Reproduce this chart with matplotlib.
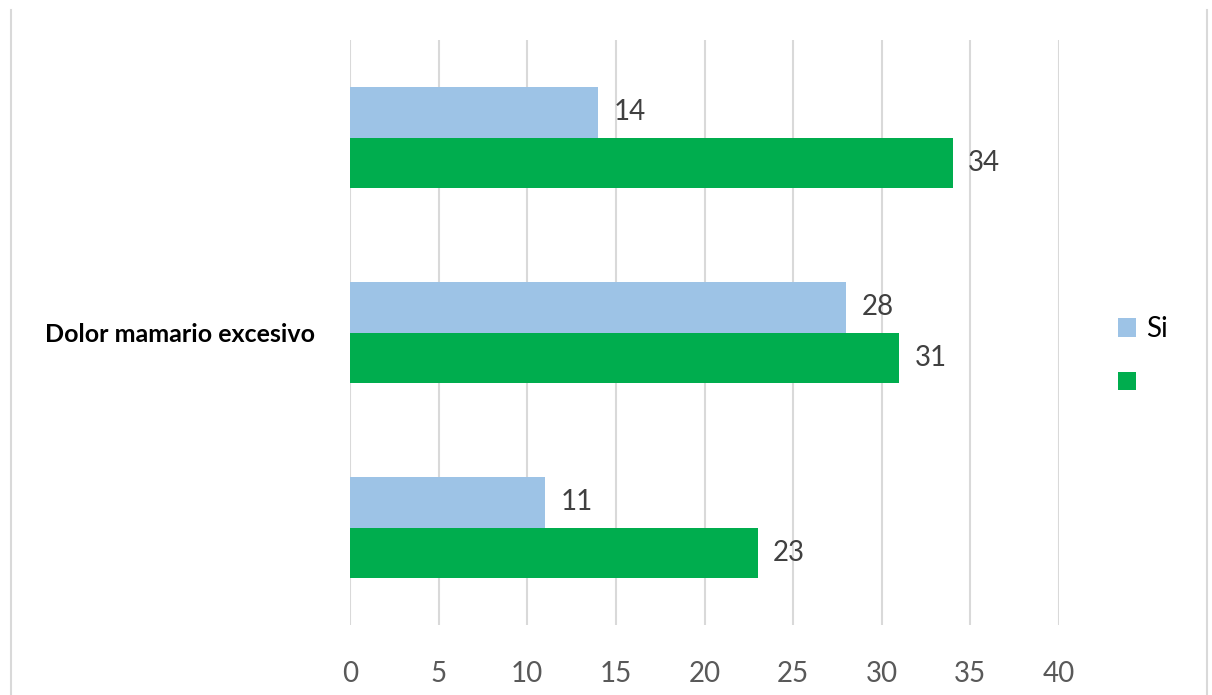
import matplotlib

matplotlib.use("Agg")
import matplotlib.pyplot as plt
from matplotlib.lines import Line2D

CATEGORIES = ["", "Dolor mamario excesivo", ""]
SI_VALUES = [14, 28, 11]
OTHER_VALUES = [34, 31, 23]
SERIES_LABELS = ["Si", " "]
XTICKS = [0, 5, 10, 15, 20, 25, 30, 35, 40]

BLUE = "#9dc3e6"
GREEN = "#00ad4e"
GRID = "#d9d9d9"

plt.rcParams["font.family"] = ["Lato", "DejaVu Sans"]


def main():
    fig = plt.figure(figsize=(12.12, 6.95), dpi=100)
    ax = fig.add_axes([350 / 1212, 1 - 625 / 695, (1059 - 350) / 1212, 585 / 695])

    pos = list(range(len(CATEGORIES)))
    h = 0.2615
    b1 = ax.barh([p - h / 2 for p in pos], SI_VALUES, height=h, color=BLUE,
                 label=SERIES_LABELS[0], zorder=2)
    b2 = ax.barh([p + h / 2 for p in pos], OTHER_VALUES, height=h, color=GREEN,
                 label=SERIES_LABELS[1], zorder=2)
    for bars in (b1, b2):
        for rect in bars:
            w = rect.get_width()
            ax.annotate(f"{w:g}", (w, rect.get_y() + rect.get_height() / 2),
                        xytext=(11, 0), textcoords="offset points",
                        ha="left", va="center", fontsize=20, color="#404040")

    ax.set_xlim(0, 40)
    ax.set_ylim(2.5, -0.5)
    ax.set_xticks(XTICKS)
    ax.set_yticks(pos)
    ax.set_yticklabels(CATEGORIES, fontsize=18, fontweight="bold", color="black")
    ax.tick_params(axis="x", length=0, pad=26, labelsize=20, labelcolor="#595959")
    ax.tick_params(axis="y", length=0, pad=25)
    ax.grid(axis="x", color=GRID, lw=1.5, zorder=0)
    ax.set_axisbelow(True)
    for s in ax.spines.values():
        s.set_visible(False)

    ax.legend(loc="center left", bbox_to_anchor=(1118 / 1212, 1 - 356 / 695),
              bbox_transform=fig.transFigure, frameon=False, fontsize=20,
              handlelength=0.65, handleheight=0.65, handletextpad=0.35,
              labelspacing=1.0, borderpad=0, borderaxespad=0)

    # outer chart frame (only the sides are visible in the source image)
    for x in (11 / 1212, 1207 / 1212):
        fig.add_artist(Line2D([x, x], [0, 1 - 10 / 695], color=GRID, lw=1.5,
                              transform=fig.transFigure))

    fig.savefig("out.png", dpi=100)


if __name__ == "__main__":
    main()
